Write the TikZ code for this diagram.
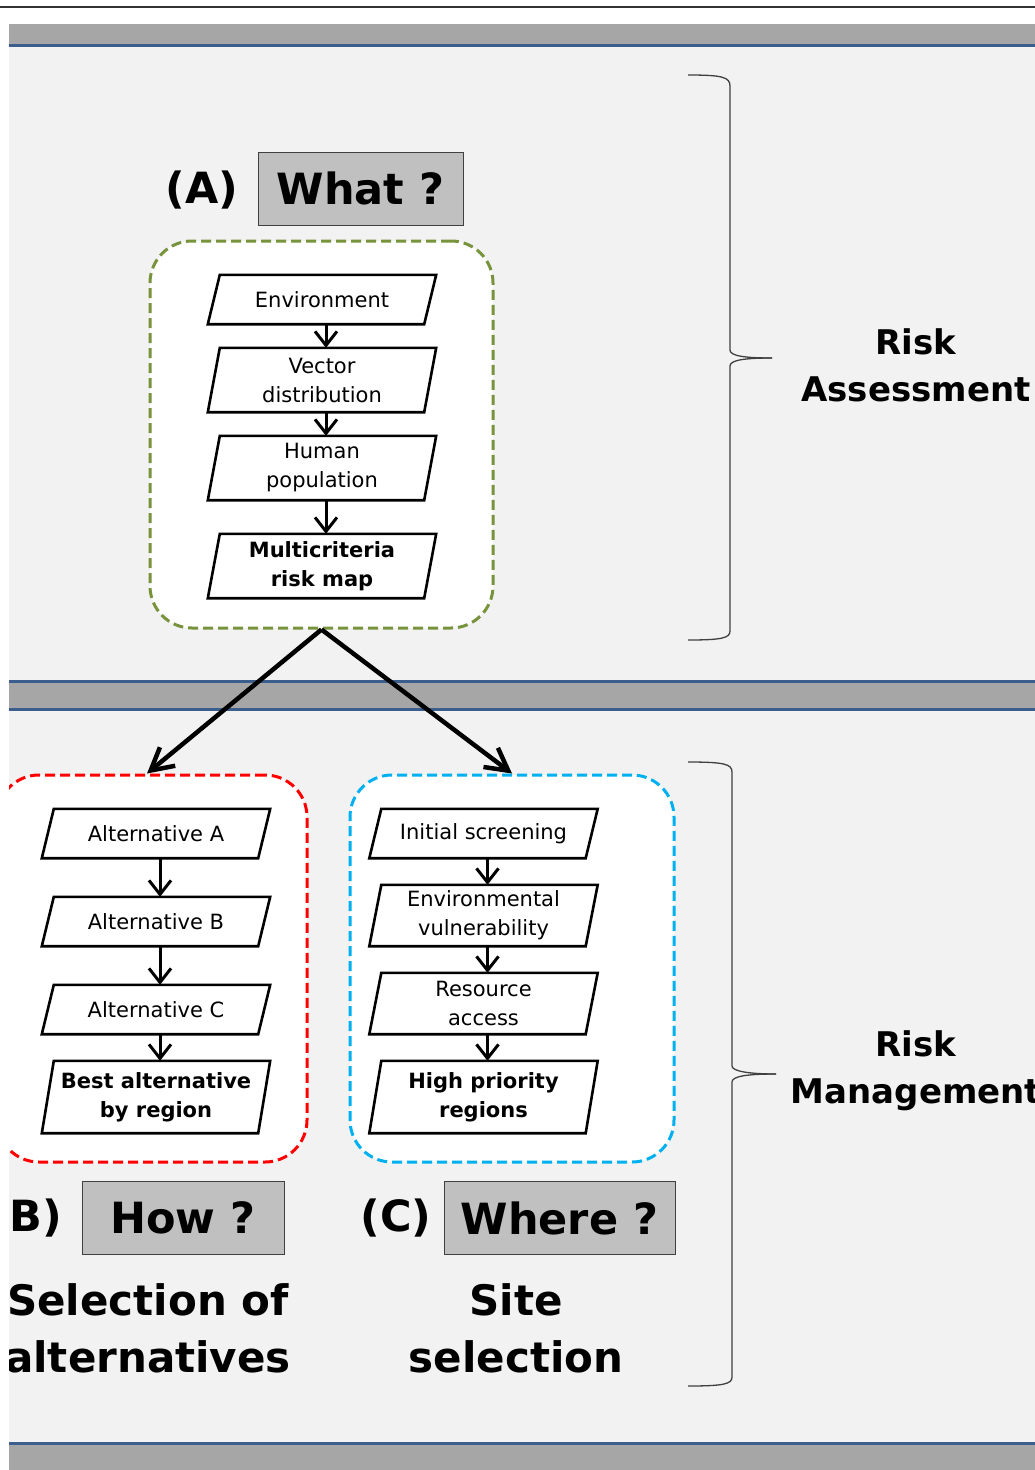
\documentclass[tikz,border=0pt]{standalone}
\usepackage{fontspec}
\setmainfont{DejaVu Sans}
\usetikzlibrary{arrows.meta}
\definecolor{bgfill}{HTML}{F2F2F2}
\definecolor{bandgray}{HTML}{A6A6A6}
\definecolor{bandblue}{HTML}{3B5E8C}
\definecolor{askgray}{HTML}{C0C0C0}
\definecolor{grpgreen}{HTML}{77933C}
\definecolor{grpred}{HTML}{FF0000}
\definecolor{grpblue}{HTML}{00B0F0}
\begin{document}
\begin{tikzpicture}[x=1pt,y=-1pt]

% width and slant of the flow boxes
\def\bw{228pt}
\def\slant{12pt}
% node style definition
\tikzstyle{para} = [draw=none, inner sep=0pt, minimum width=\bw,
	align=center, font=\fontsize{21}{29}\selectfont];
\tikzstyle{parab} = [para, font=\fontsize{21}{29}\selectfont\bfseries];
\tikzstyle{grp} = [rectangle, rounded corners=42pt, fill=white, inner sep=0pt,
	line width=3pt, dash pattern=on 10pt off 5pt, minimum height=387pt];
\tikzstyle{ask} = [fill=askgray, draw=black!75, line width=1pt, minimum height=73pt,
	inner sep=0pt, font=\fontsize{43}{50}\selectfont\bfseries];
\tikzstyle{tagtxt} = [inner sep=0pt, font=\fontsize{43}{50}\selectfont\bfseries];
\tikzstyle{goal} = [inner sep=0pt, align=center, font=\fontsize{42}{57}\selectfont\bfseries];
\tikzstyle{side} = [inner sep=0pt, align=center, font=\fontsize{34}{47}\selectfont\bfseries];
\tikzstyle{arr} = [line width=3pt, -{Straight Barb[length=14pt,width=22pt]}];
\tikzstyle{bigarr} = [line width=4.5pt, -{Straight Barb[length=22pt,width=24pt]}];
\tikzstyle{curly} = [line width=1.3pt, draw=black!75];

\useasboundingbox (0,0) rectangle (1035,1470);
\draw[line width=1.6pt, black!80] (0,7) -- (1035,7);

\begin{scope}
\clip (9,0) rectangle (1035,1470);

% background and bands
\fill[bgfill] (9,24) rectangle (1035,1470);
\fill[bandgray] (9,24) rectangle (1035,44);
\fill[bandblue] (9,44) rectangle (1035,47);
\fill[bandblue] (9,680) rectangle (1035,683);
\fill[bandgray] (9,683) rectangle (1035,708);
\fill[bandblue] (9,708) rectangle (1035,711);
\fill[bandblue] (9,1442) rectangle (1035,1445);
\fill[bandgray] (9,1445) rectangle (1035,1470);

% braces
\draw[curly] (688,75) .. controls (722,75) and (730,77) .. (730,86) -- (730,350)
	.. controls (730,356) and (745,358) .. (772,358);
\draw[curly] (772,358) .. controls (745,358) and (730,360) .. (730,366) -- (730,631)
	.. controls (730,638) and (722,640) .. (688,640);
\draw[curly] (688,762) .. controls (724,762) and (732,764) .. (732,772) -- (732,1066)
	.. controls (732,1071) and (748,1074) .. (776,1074);
\draw[curly] (776,1074) .. controls (748,1074) and (732,1076) .. (732,1082) -- (732,1377)
	.. controls (732,1384) and (724,1386) .. (688,1386);

% groups
\node[grp, draw=grpgreen, minimum width=343pt] (riskgrp) at (321.5,434.5) {};
\node[grp, draw=grpred, minimum width=310pt] (altgrp) at (152,968.5) {};
\node[grp, draw=grpblue, minimum width=324pt] (sitegrp) at (512,968.5) {};

% (A) what
\node[para, minimum height=49pt] (env) at (322,299.5) {Environment};
\node[para, minimum height=64pt] (vec) at (322,380) {Vector\\distribution};
\node[para, minimum height=64pt] (hum) at (322,468) {Human\\population};
\node[parab, minimum height=64pt] (mcr) at (322,566) {Multicriteria\\risk map};

% (B) how
\node[para, minimum height=49pt] (alta) at (156,833.5) {Alternative A};
\node[para, minimum height=49pt] (altb) at (156,921.5) {Alternative B};
\node[para, minimum height=49pt] (altc) at (156,1009.5) {Alternative C};
\node[parab, minimum height=72pt] (best) at (156,1097) {Best alternative\\by region};

% (C) where
\node[para, minimum height=49pt] (scr) at (483.5,833.5) {Initial screening};
\node[para, minimum height=61pt] (vul) at (483.5,915.5) {Environmental\\vulnerability};
\node[para, minimum height=61pt] (res) at (483.5,1003.5) {Resource\\access};
\node[parab, minimum height=72pt] (hig) at (483.5,1097) {High priority\\regions};

% box outlines
\foreach \n in {env,vec,hum,mcr,alta,altb,altc,best,scr,vul,res,hig}
	\draw[line width=2.6pt] ([xshift=\slant]\n.north west) -- (\n.north east)
		-- ([xshift=-\slant]\n.south east) -- (\n.south west) -- cycle;

\foreach \a/\b in {env/vec,vec/hum,hum/mcr,alta/altb,altb/altc,altc/best,scr/vul,vul/res,res/hig}
	\draw[arr] ([xshift=4pt]\a.south) -- ([xshift=4pt]\b.north);

\draw[bigarr] (riskgrp.south) -- ([xshift=-5pt]altgrp.north);
\draw[bigarr] (riskgrp.south) -- (sitegrp.north);

% labels
\node[tagtxt] (taga) at (202,190) {(A)};
\node[ask, minimum width=205pt] (what) at (360.5,188.5) {What ?};
\node[tagtxt] (tagb) at (26,1218) {(B)};
\node[ask, minimum width=202pt] (how) at (183,1218) {How ?};
\node[tagtxt] (tagc) at (396,1218) {(C)};
\node[ask, minimum width=231pt] (where) at (559.5,1218) {Where ?};
\node[goal] (selalt) at (148,1328) {Selection of\\alternatives};
\node[goal] (sitesel) at (516,1328) {Site\\selection};
\node[side] (assess) at (916,365) {Risk\\Assessment};
\node[side] (manage) at (916,1071) {Risk\\Management};

\end{scope}

\end{tikzpicture}
\end{document}
